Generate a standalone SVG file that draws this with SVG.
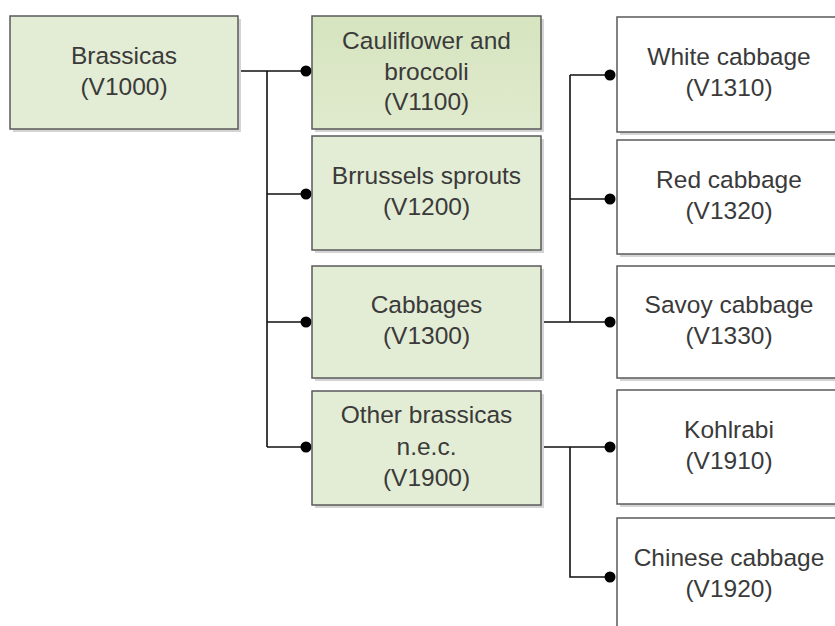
<svg xmlns="http://www.w3.org/2000/svg" width="835" height="626" viewBox="0 0 835 626">
  <style>
    .box { stroke: #5a5a5a; stroke-width: 1.5; }
    .green { fill: #e3ecd4; }
    .white { fill: #ffffff; }
    .shadow { fill: #d4d4d4; }
    .label { font-family: "Liberation Sans", Arial, sans-serif; font-size: 24.5px; fill: #3a3a3a; text-anchor: middle; }
    .wire { fill: none; stroke: #111; stroke-width: 1.6; }
    .dot { fill: #000; }
  </style>
  <defs>
    <linearGradient id="selGrad" x1="0" y1="0" x2="0" y2="1">
      <stop offset="0" stop-color="#d6e4bf"/>
      <stop offset="1" stop-color="#e0eacd"/>
    </linearGradient>
  </defs>
  <rect width="835" height="626" fill="#ffffff"/>

  <!-- connectors -->
  <g id="connectors">
    <path class="wire" d="M238,71 H306 M267,71 V447 M267,194 H306 M267,322 H306 M267,447 H306"/>
    <path class="wire" d="M541,322 H610 M570,75 V322 M570,75 H610 M570,199 H610"/>
    <path class="wire" d="M541,447 H610 M570,447 V577 H610"/>
    <circle class="dot" cx="306" cy="71" r="5.5"/>
    <circle class="dot" cx="306" cy="194" r="5.5"/>
    <circle class="dot" cx="306" cy="322" r="5.5"/>
    <circle class="dot" cx="306" cy="447" r="5.5"/>
    <circle class="dot" cx="610" cy="75" r="5.5"/>
    <circle class="dot" cx="610" cy="199" r="5.5"/>
    <circle class="dot" cx="610" cy="322" r="5.5"/>
    <circle class="dot" cx="610" cy="447" r="5.5"/>
    <circle class="dot" cx="610" cy="577" r="5.5"/>
  </g>

  <g id="V1000">
    <rect class="shadow" x="13" y="19" width="228" height="113"/>
    <rect class="box green" x="10" y="16" width="228" height="113"/>
    <text class="label" x="124" y="64">Brassicas</text>
    <text class="label" x="124" y="95">(V1000)</text>
  </g>

  <g id="V1100">
    <rect class="shadow" x="315" y="19" width="229" height="113"/>
    <rect class="box" fill="url(#selGrad)" x="312" y="16" width="229" height="113"/>
    <text class="label" x="426.5" y="49">Cauliflower and</text>
    <text class="label" x="426.5" y="80">broccoli</text>
    <text class="label" x="426.5" y="110">(V1100)</text>
  </g>

  <g id="V1200">
    <rect class="shadow" x="315" y="139" width="229" height="114"/>
    <rect class="box green" x="312" y="136" width="229" height="114"/>
    <text class="label" x="426.5" y="184">Brrussels sprouts</text>
    <text class="label" x="426.5" y="215">(V1200)</text>
  </g>

  <g id="V1300">
    <rect class="shadow" x="315" y="269" width="229" height="112"/>
    <rect class="box green" x="312" y="266" width="229" height="112"/>
    <text class="label" x="426.5" y="313">Cabbages</text>
    <text class="label" x="426.5" y="344">(V1300)</text>
  </g>

  <g id="V1900">
    <rect class="shadow" x="315" y="394" width="229" height="114"/>
    <rect class="box green" x="312" y="391" width="229" height="114"/>
    <text class="label" x="426.5" y="423">Other brassicas</text>
    <text class="label" x="426.5" y="455">n.e.c.</text>
    <text class="label" x="426.5" y="486">(V1900)</text>
  </g>

  <g id="V1310">
    <rect class="shadow" x="620" y="20" width="225" height="115"/>
    <rect class="box white" x="617" y="17" width="225" height="115"/>
    <text class="label" x="729" y="65">White cabbage</text>
    <text class="label" x="729" y="96">(V1310)</text>
  </g>

  <g id="V1320">
    <rect class="shadow" x="620" y="143" width="225" height="114"/>
    <rect class="box white" x="617" y="140" width="225" height="114"/>
    <text class="label" x="729" y="188">Red cabbage</text>
    <text class="label" x="729" y="219">(V1320)</text>
  </g>

  <g id="V1330">
    <rect class="shadow" x="620" y="269" width="225" height="112"/>
    <rect class="box white" x="617" y="266" width="225" height="112"/>
    <text class="label" x="729" y="313">Savoy cabbage</text>
    <text class="label" x="729" y="344">(V1330)</text>
  </g>

  <g id="V1910">
    <rect class="shadow" x="620" y="393" width="225" height="114"/>
    <rect class="box white" x="617" y="390" width="225" height="114"/>
    <text class="label" x="729" y="438">Kohlrabi</text>
    <text class="label" x="729" y="469">(V1910)</text>
  </g>

  <g id="V1920">
    <rect class="shadow" x="620" y="521" width="225" height="120"/>
    <rect class="box white" x="617" y="518" width="225" height="120"/>
    <text class="label" x="729" y="566">Chinese cabbage</text>
    <text class="label" x="729" y="597">(V1920)</text>
  </g>
</svg>
